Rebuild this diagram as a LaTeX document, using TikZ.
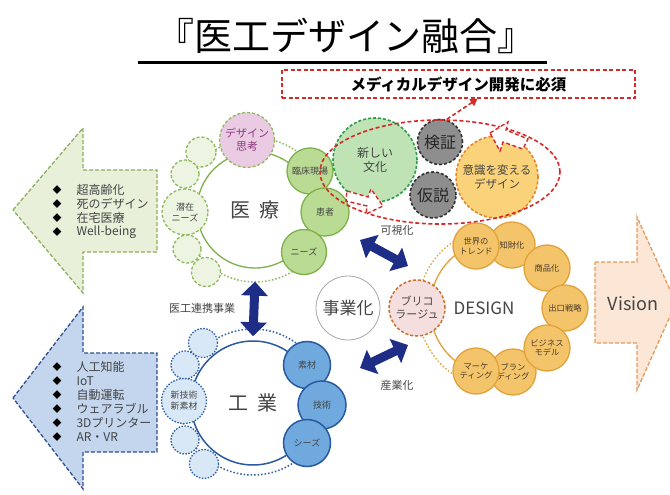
\documentclass[tikz,border=0pt]{standalone}
\usepackage{fontspec}
\setmainfont{Noto Sans CJK JP}
\usetikzlibrary{shapes.geometric,arrows.meta}
\newcommand\fsz[2]{\fontsize{#1}{#2}\selectfont}
\definecolor{txt}{HTML}{444444}
\definecolor{redc}{HTML}{D42A2A}
\definecolor{garrowf}{HTML}{E8F0DA}
\definecolor{garrowd}{HTML}{8DB060}
\definecolor{barrowf}{HTML}{C4D6EE}
\definecolor{barrowd}{HTML}{2F4F8F}
\definecolor{glight}{HTML}{EDF4E1}
\definecolor{gbord}{HTML}{8DBA5A}
\definecolor{gsolf}{HTML}{BADB94}
\definecolor{gsold}{HTML}{7DB14A}
\definecolor{pinkf}{HTML}{EACBE3}
\definecolor{purpt}{HTML}{8A3A7A}
\definecolor{blight}{HTML}{D9E8F6}
\definecolor{bbord}{HTML}{2F5FA5}
\definecolor{bsolf}{HTML}{6FA9DD}
\definecolor{bsold}{HTML}{2B5AA0}
\definecolor{osolf}{HTML}{F4C46B}
\definecolor{osold}{HTML}{E2A23A}
\definecolor{otext}{HTML}{4A3A2A}
\definecolor{bricf}{HTML}{F4DEDE}
\definecolor{bricd}{HTML}{CF6F2A}
\definecolor{navy}{HTML}{1E2E86}
\definecolor{visf}{HTML}{FCE6D6}
\definecolor{visd}{HTML}{E59A5C}
\definecolor{newf}{HTML}{BFE3B5}
\definecolor{newd}{HTML}{2E9B4F}
\definecolor{grayf}{HTML}{8E8E8E}
\definecolor{ishf}{HTML}{F9D27A}
\definecolor{ishd}{HTML}{E4862A}
\tikzset{
  circ/.style={circle, inner sep=0pt, align=center},
  gsat/.style={circ, draw=gbord, fill=glight, dash pattern=on 3pt off 2pt, line width=1.3pt, font=\fsz{9}{11}, text=txt},
  gsol/.style={circ, draw=gsold, fill=gsolf, line width=1.3pt, font=\fsz{9}{11}, text=txt},
  bsat/.style={circ, draw=bbord, fill=blight, dash pattern=on 1.5pt off 1.5pt, line width=1.3pt, font=\fsz{9}{11}, text=txt},
  bsol/.style={circ, draw=bsold, fill=bsolf, line width=1.5pt, font=\fsz{9}{11}, text=txt},
  osol/.style={circ, draw=osold, fill=osolf, line width=1.3pt, minimum size=46pt, font=\fsz{8.3}{9.5}, text=otext},
  bigarrow/.style={navy, line width=9pt, {Triangle[width=26pt,length=14pt]}-{Triangle[width=26pt,length=14pt]}},
  reddash/.style={redc, dash pattern=on 4pt off 2.5pt, line width=1.6pt},
  lbl/.style={font=\fsz{11}{13}, text=txt},
  bul/.style={font=\fsz{9}{11}, text=black},
  itm/.style={anchor=west, font=\fsz{12}{14}, text=txt}
}
\begin{document}
\begin{tikzpicture}[x=1pt,y=-1pt]
\useasboundingbox (0,0) rectangle (670,495);
\fill[white] (0,0) rectangle (670,495);

% title
\node[font=\fsz{38}{42}, text=black] (title) at (346,36) {『医工デザイン融合』};
\draw[line width=3pt] (138,63) -- (547,63);
\node[draw=redc, dash pattern=on 4pt off 2.5pt, line width=1.6pt, minimum width=353pt, minimum height=28pt, inner sep=0pt, font=\bfseries\fsz{15.5}{17}, text=black] (must) at (458.5,84) {メディカルデザイン開発に必須};

% left arrows
\draw[garrowd, dash pattern=on 4pt off 2pt, line width=1.3pt, fill=garrowf] (13,210) -- (83,128) -- (83,170) -- (157,170) -- (157,252) -- (83,252) -- (83,293) -- cycle;
\foreach \t [count=\i] in {超高齢化,死のデザイン,在宅医療,Well-being}{
  \node[bul] (gb\i) at (57,{176+14*\i}) {◆};
  \node[itm] (gt\i) at (73,{176+14*\i}) {\t};
}
\draw[barrowd, dash pattern=on 4pt off 2pt, line width=1.3pt, fill=barrowf] (13,398) -- (83,307) -- (83,353) -- (157,353) -- (157,452) -- (83,452) -- (83,489) -- cycle;
\foreach \t [count=\i] in {人工知能,IoT,自動運転,ウェアラブル,3Dプリンター,AR・VR}{
  \node[bul] (bb\i) at (57,{353+14*\i}) {◆};
  \node[itm] (bt\i) at (73,{353+14*\i}) {\t};
}

% medical cluster
\draw[gbord, dash pattern=on 1.5pt off 2pt, line width=1.5pt] (255,210) circle[radius=72];
\node[circ, draw=gsold, line width=1.3pt, fill=white, minimum size=116pt, font=\fsz{20}{22}, text=txt] (med) at (255,210) {医\hspace{0.45em}療};
\node[gsat, minimum size=30pt] (m1) at (201,152) {};
\node[gsat, minimum size=28pt] (m2) at (185,174) {};
\node[gsat, minimum size=46pt] (m3) at (185,212) {潜在\\ニーズ};
\node[gsat, minimum size=28pt] (m4) at (187,249) {};
\node[gsat, minimum size=29pt] (m5) at (206,272) {};
\node[gsat, fill=pinkf, text=purpt, minimum size=55pt, font=\fsz{11}{13}] (m6) at (247,140) {デザイン\\思考};
\node[gsol, minimum size=46pt] (m7) at (310,171) {臨床現場};
\node[gsol, minimum size=48pt] (m8) at (325,212) {患者};
\node[gsol, minimum size=45pt] (m9) at (304,252) {ニーズ};

% industry cluster
\draw[bbord, dash pattern=on 1.5pt off 2pt, line width=1.5pt] (253,402) circle[radius=73];
\node[circ, draw=bsold, line width=1.5pt, fill=white, minimum size=124pt, font=\fsz{20}{22}, text=txt] (ind) at (253,403) {工\hspace{0.45em}業};
\node[bsat, minimum size=29pt] (i1) at (203,343) {};
\node[bsat, minimum size=28pt] (i2) at (185,365) {};
\node[bsat, minimum size=45pt] (i3) at (184,401) {新技術\\新素材};
\node[bsat, minimum size=28pt] (i4) at (185,440) {};
\node[bsat, minimum size=29pt] (i5) at (204,464) {};
\node[bsol, minimum size=47pt] (i6) at (307,365) {素材};
\node[bsol, minimum size=48pt] (i7) at (322,405) {技術};
\node[bsol, minimum size=47pt] (i8) at (307,443) {シーズ};

\draw[bigarrow] ([yshift=-13pt]med.south) -- ([yshift=4pt]ind.north);
\node[lbl] (renkei) at (202,308) {医工連携事業};

% business
\node[circ, draw=gray!70, line width=0.8pt, fill=white, minimum size=64pt, font=\fsz{17}{19}, text=txt] (biz) at (348,308) {事業化};
\coordinate (v1) at (360,240);
\coordinate (v2) at (408,266);
\coordinate (s1) at (360,368);
\coordinate (s2) at (408,345);
\draw[bigarrow] (v1) -- (v2);
\draw[bigarrow] (s1) -- (s2);
\node[lbl] (kashika) at (397,230) {可視化};
\node[lbl] (sangyo) at (397,385) {産業化};

% design cluster
\draw[osold, dash pattern=on 1.5pt off 2pt, line width=1.3pt] (498,308) ++(105:80) arc[start angle=105, end angle=255, radius=80];
\node[circ, draw=osold, line width=1.3pt, fill=white, minimum size=136pt] (des) at (498,308) {};
\node[font=\fsz{17}{19}, text=txt] (destext) at (484,308) {DESIGN};
\node[circ, draw=bricd, dash pattern=on 3pt off 2pt, line width=1.5pt, fill=bricf, minimum size=56pt, font=\fsz{11}{13}, text=txt] (bri) at (417,308) {ブリコ\\ラージュ};
\node[osol] (d2) at (512,245) {知財化};
\node[osol] (d1) at (476,246) {世界の\\トレンド};
\node[osol] (d3) at (547,268) {商品化};
\node[osol] (d4) at (565,308) {出口戦略};
\node[osol] (d6) at (513,372) {ブラン\\ディング};
\node[osol] (d7) at (476,371) {マーケ\\ティング};
\node[osol] (d5) at (547,348) {ビジネス\\モデル};

% vision
\draw[visd, dash pattern=on 4pt off 2pt, line width=1.3pt, fill=visf] (595,262) -- (637,262) -- (637,217) -- (676,303) -- (637,390) -- (637,343) -- (595,343) -- cycle;
\node[font=\fsz{18}{20}, text=txt] (vis) at (633,304) {Vision};

% top cluster
\node[circ, draw=newd, dash pattern=on 3pt off 2pt, line width=1.6pt, fill=newf, minimum size=84pt, font=\fsz{12}{14}, text=txt] (new) at (375,160) {新しい\\文化};
\node[circ, draw=black!80, dash pattern=on 3pt off 2pt, line width=1.6pt, fill=grayf, minimum size=45pt, font=\fsz{16}{18}, text=black!85] (ken) at (440,142) {検証};
\node[circ, draw=black!80, dash pattern=on 3pt off 2pt, line width=1.6pt, fill=grayf, minimum size=46pt, font=\fsz{16}{18}, text=black!85] (kas) at (433,195) {仮説};
\node[circ, draw=ishd, dash pattern=on 3pt off 2pt, line width=1.6pt, fill=ishf, minimum size=82pt, font=\fsz{11.5}{14}, text=txt] (ish) at (497,177) {意識を変える\\デザイン};
\node[ellipse, draw=redc, dash pattern=on 4pt off 2.5pt, line width=1.6pt, minimum width=240pt, minimum height=104pt, inner sep=0pt] (ell) at (440,172) {};
\draw[reddash, -{Triangle[width=8pt,length=7pt]}] ([xshift=7pt]ell.north) -- ([xshift=19pt]must.south);
\draw[reddash, fill=white, line width=1.4pt] (490,133) -- (508,122) -- (506,130) -- (528,139) -- (523,149) -- (503,142) -- (500,151) -- cycle;
\draw[reddash, fill=white, line width=1.4pt] (347,191) -- (368,197) -- (371,189) -- (383,206) -- (366,214) -- (367,206) -- (346,201) -- cycle;
\end{tikzpicture}
\end{document}
